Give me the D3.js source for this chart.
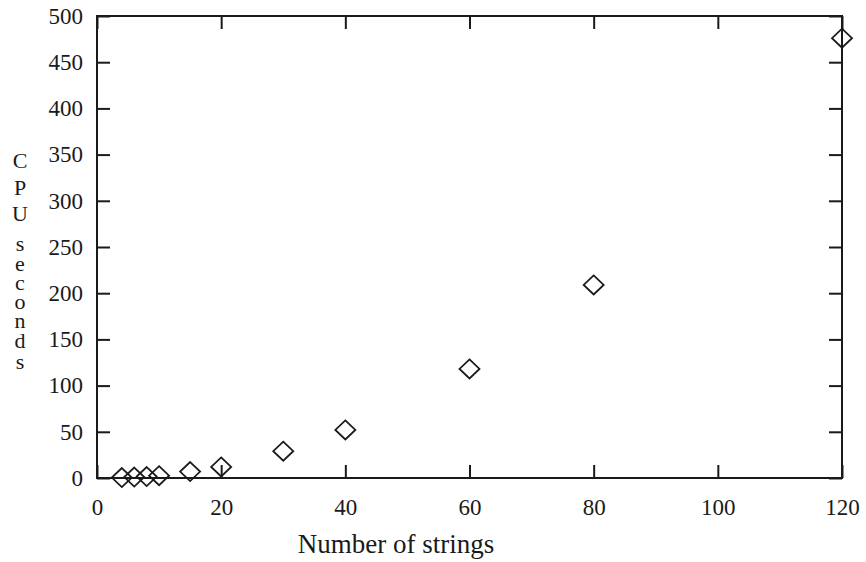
<!DOCTYPE html>
<html>
<head>
<meta charset="utf-8">
<script src="https://cdn.jsdelivr.net/npm/d3@7"></script>
<style>
	body { margin: 0; background: #fff; }
	text { font-family: "Liberation Serif", "DejaVu Serif", serif; fill: #1a1a1a; }
</style>
</head>
<body>
<svg id="chart" width="866" height="562"></svg>
<script>
// number of strings vs CPU seconds
var strings = [4, 6, 8, 10, 15, 20, 30, 40, 60, 80, 120];
var cpuSeconds = [0.5, 1, 1.5, 2.5, 7, 12, 29, 52, 118, 209, 476];
var xTicks = [0, 20, 40, 60, 80, 100, 120];
var yTicks = [0, 50, 100, 150, 200, 250, 300, 350, 400, 450, 500];
var yTitle = ["C", "P", "U", "s", "e", "c", "o", "n", "d", "s"];
var yTitlePos = [160, 187, 213, 243, 263, 282, 301, 320, 340, 361];

var svg = d3.select("#chart");
var plotL = 97, plotR = 842, plotT = 16, plotB = 478;

var x = d3.scaleLinear().domain([0, 120]).range([plotL, plotR]);
var y = d3.scaleLinear().domain([0, 500]).range([plotB, plotT]);

function styleAxis(g)
{
	g.select(".domain").remove();
	g.attr("font-family", null).attr("font-size", null);
	g.selectAll(".tick line").attr("stroke", "#1a1a1a").attr("stroke-width", 2);
	g.selectAll(".tick text").attr("fill", "#1a1a1a").style("font-size", "23px");
}

// bottom and left with labels, top and right mirrored
svg.append("g")
	.attr("transform", "translate(0," + plotB + ")")
	.call(d3.axisBottom(x).tickValues(xTicks).tickSize(-13).tickPadding(21))
	.call(styleAxis);
svg.append("g")
	.attr("transform", "translate(0," + plotT + ")")
	.call(d3.axisTop(x).tickValues(xTicks).tickSize(-13).tickFormat(""))
	.call(styleAxis);
svg.append("g")
	.attr("transform", "translate(" + plotL + ",0)")
	.call(d3.axisLeft(y).tickValues(yTicks).tickSize(-13).tickPadding(14))
	.call(styleAxis);
svg.append("g")
	.attr("transform", "translate(" + plotR + ",0)")
	.call(d3.axisRight(y).tickValues(yTicks).tickSize(-13).tickFormat(""))
	.call(styleAxis);

svg.append("rect")
	.attr("x", plotL).attr("y", plotT)
	.attr("width", plotR - plotL).attr("height", plotB - plotT)
	.attr("fill", "none")
	.attr("stroke", "#1a1a1a")
	.attr("stroke-width", 2);

// diamonds
var pts = strings.map(function(d, i) { return {x: d, y: cpuSeconds[i]}; });
svg.append("g").selectAll("path")
	.data(pts)
	.enter()
	.append("path")
		.attr("d", function(d) {
			var cx = x(d.x), cy = y(d.y), w = 10, h = 9.5;
			return "M" + cx + "," + (cy - h) + "L" + (cx + w) + "," + cy +
				"L" + cx + "," + (cy + h) + "L" + (cx - w) + "," + cy + "Z";
		})
		.attr("fill", "none")
		.attr("stroke", "#1a1a1a")
		.attr("stroke-width", 1.8);

// axis titles
svg.append("text")
	.attr("x", 396).attr("y", 553)
	.attr("text-anchor", "middle")
	.style("font-size", "27px")
	.text("Number of strings");

svg.append("g").selectAll("text")
	.data(yTitle)
	.enter()
	.append("text")
		.attr("x", 20)
		.attr("y", function(d, i) { return yTitlePos[i]; })
		.attr("dy", "0.35em")
		.attr("text-anchor", "middle")
		.style("font-size", "22px")
		.text(function(d) { return d; });
</script>
</body>
</html>
